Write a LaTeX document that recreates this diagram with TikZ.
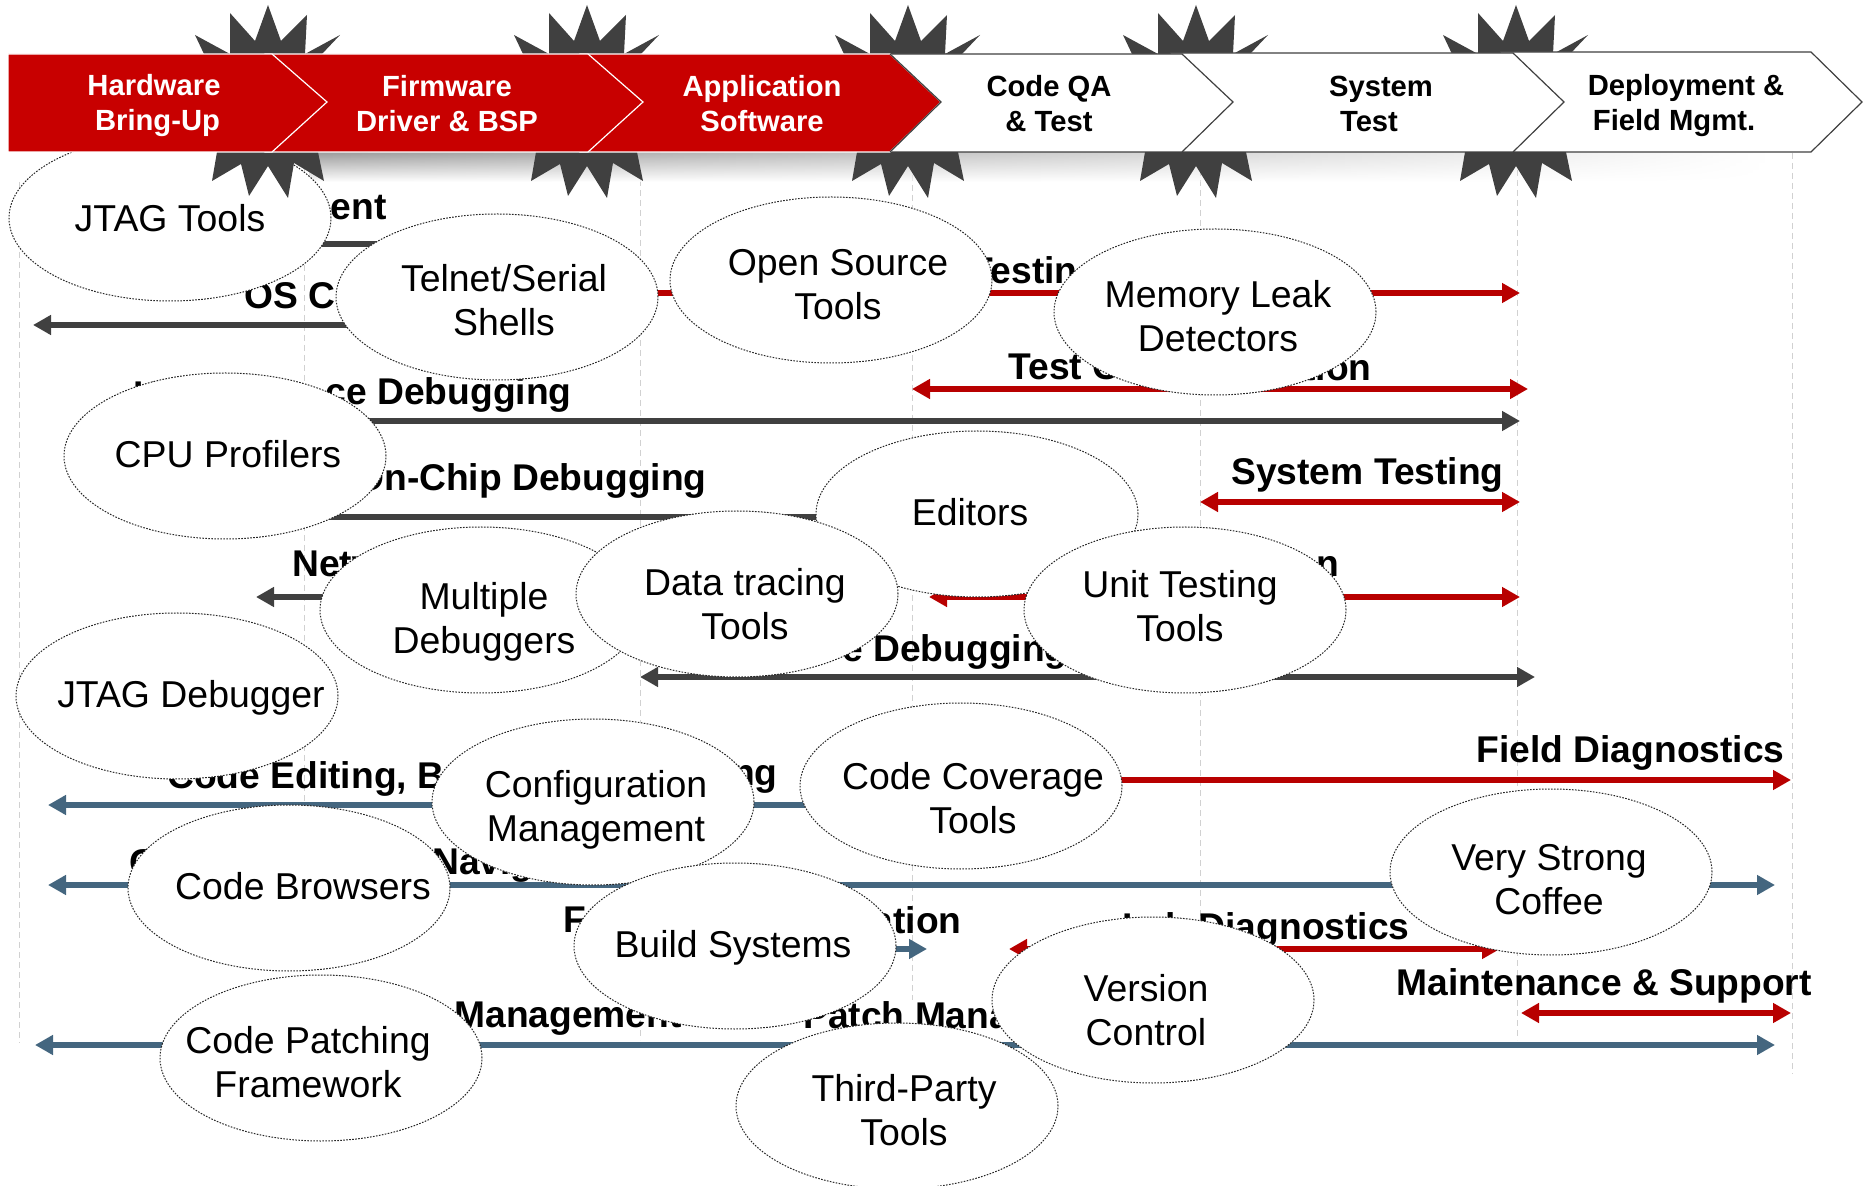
\documentclass[tikz,border=0pt]{standalone}
\usepackage{fontspec}
\setmainfont{Liberation Sans}
\usepackage{tikz}
\usetikzlibrary{arrows.meta, shapes.geometric, fadings}
\definecolor{stagered}{HTML}{C80000}
\definecolor{barred}{HTML}{B80000}
\definecolor{bardark}{HTML}{404040}
\definecolor{barblue}{HTML}{44667F}
\tikzset{%
  x=0.5pt, y=-0.5pt,
  >={Triangle[length=9pt, width=9.5pt]},
  every edge/.style={
    draw,
    line width=3.4pt},
  redbar/.style={draw=barred},
  darkbar/.style={draw=bardark},
  bluebar/.style={draw=barblue},
  tool/.style={
    ellipse,
    draw=black!85,
    line width=0.5pt,
    dash pattern=on 0.8pt off 0.7pt,
    fill=white,
    minimum width=161pt,
    minimum height=83pt,
    inner sep=0pt},
  tooltext/.style={
    align=center,
    inner sep=0pt,
    font=\fontsize{18.7}{22}\selectfont},
  stagered/.style={
    draw=white,
    fill=stagered,
    semithick},
  stagewhite/.style={
    draw=bardark,
    fill=white,
    semithick},
  stagetext/.style={
    align=center,
    font=\fontsize{14.6}{17.5}\selectfont\bfseries},
  barlabel/.style={
    inner sep=0pt,
    font=\fontsize{18.6}{22}\selectfont\bfseries},
  guide/.style={
    draw=black!18,
    densely dashed,
    thin}
}

\begin{document}
\begin{tikzpicture}
    \useasboundingbox (0,0) rectangle (1868,1186);

    % phase guides
    \foreach \x/\ya/\yb in {19/182/1043, 304/155/805, 640/180/1040, 912/165/1000,
        1200/160/1000, 1517/160/1040, 1792/153/1074} {
      \draw[guide] (\x,\ya) -- (\x,\yb);
    }

    \shade[top color=black!38, bottom color=white, path fading=east]
      (310,153) rectangle (1770,182);

    % bar ends
    \foreach \name/\xa/\xb/\y in {lowA/260/420/244, osA/33/500/325, testA/640/1520/293,
        genA/912/1528/389, kernA/300/1520/421, chipA/300/850/517, sysA/1200/1520/502,
        netA/256/400/597, intA/929/1520/597, srcA/640/1535/677, fieldA/1000/1791/780,
        editA/48/900/805, navA/48/1775/885, docA/650/927/949, labA/1009/1500/949,
        mainA/1521/1791/1013, patchA/35/1775/1045} {
      \coordinate (\name L) at (\xa,\y);
      \coordinate (\name R) at (\xb,\y);
    }

    \draw
      (lowAL) edge [darkbar] (lowAR)
      (osAL) edge [darkbar, <-] (osAR)
      (testAL) edge [redbar, ->] (testAR)
      (genAL) edge [redbar, <->] (genAR)
      (kernAL) edge [darkbar, ->] (kernAR)
      (chipAL) edge [darkbar] (chipAR)
      (sysAL) edge [redbar, <->] (sysAR)
      (netAL) edge [darkbar, <-] (netAR)
      (intAL) edge [redbar, <->] (intAR)
      (srcAL) edge [darkbar, <->] (srcAR)
      (fieldAL) edge [redbar, ->] (fieldAR)
      (editAL) edge [bluebar, <-] (editAR)
      (navAL) edge [bluebar, <->] (navAR)
      (docAL) edge [bluebar, ->] (docAR)
      (labAL) edge [redbar, <->] (labAR)
      (mainAL) edge [redbar, <->] (mainAR)
      (patchAL) edge [bluebar, <->] (patchAR)
    ;

    % bar labels, the tool ellipses cover parts of them
    \node[barlabel, anchor=east] (lLow) at (387,208) {ent};
    \node[barlabel, anchor=west] (lOs) at (244,296) {OS C};
    \node[barlabel, anchor=east] (lTest) at (1078,270) {Testin};
    \node[barlabel, anchor=west] (lGenA) at (1008,367) {Test C};
    \node[barlabel, anchor=east] (lGenB) at (1372,367) {ation};
    \node[barlabel, anchor=west] (lKernA) at (133,395) {K};
    \node[barlabel, anchor=east] (lKernB) at (572,395) {ce Debugging};
    \node[barlabel, anchor=east] (lChip) at (707,481) {On-Chip Debugging};
    \node[barlabel, anchor=west] (lSys) at (1231,475) {System Testing};
    \node[barlabel, anchor=west] (lNet) at (292,564) {Netw};
    \node[barlabel, anchor=east] (lInt) at (1340,566) {n};
    \node[barlabel, anchor=west] (lSrc) at (842,652) {e Debugging};
    \node[barlabel, anchor=east] (lField) at (1785,753) {Field Diagnostics};
    \node[barlabel, anchor=west] (lEditA) at (167,779) {Code Editing, B};
    \node[barlabel, anchor=east] (lEditB) at (778,779) {ng};
    \node[barlabel, anchor=west] (lNavA) at (129,863) {C};
    \node[barlabel, anchor=west] (lNavB) at (432,865) {Navig};
    \node[barlabel, anchor=west] (lDocA) at (563,920) {F};
    \node[barlabel, anchor=east] (lDocB) at (962,920) {ation};
    \node[barlabel, anchor=east] (lLab) at (1410,930) {Lab Diagnostics};
    \node[barlabel, anchor=west] (lMain) at (1396,986) {Maintenance \& Support};
    \node[barlabel, anchor=west] (lPatchA) at (454,1019) {Management};
    \node[barlabel, anchor=west] (lPatchB) at (803,1015) {Patch Mana};

    % tools
    \node[tool] (jtagT) at (170,218) {};
    \node[tool] (telnet) at (497,297) {};
    \node[tool] (oss) at (831,280) {};
    \node[tool] (leak) at (1215,312) {};
    \node[tool] (cpu) at (225,456) {};
    \node[tool] (editors) at (977,514) {};
    \node[tool] (multi) at (481,610) {};
    \node[tool] (trace) at (737,594) {};
    \node[tool] (unit) at (1185,610) {};
    \node[tool] (jtagD) at (177,696) {};
    \node[tool] (config) at (593,802) {};
    \node[tool] (cover) at (961,786) {};
    \node[tool] (browse) at (289,888) {};
    \node[tool] (coffee) at (1551,872) {};
    \node[tool] (build) at (735,946) {};
    \node[tool] (third) at (897,1106) {};
    \node[tool] (version) at (1153,1000) {};
    \node[tool] (patch) at (321,1058) {};

    \node[tooltext] (tJtagT) at (170,218) {JTAG Tools};
    \node[tooltext] (tTelnet) at (504,300) {Telnet/Serial\\Shells};
    \node[tooltext] (tOss) at (838,285) {Open Source\\Tools};
    \node[tooltext] (tLeak) at (1218,316) {Memory Leak\\Detectors};
    \node[tooltext] (tCpu) at (228,454) {CPU Profilers};
    \node[tooltext] (tEditors) at (970,512) {Editors};
    \node[tooltext] (tMulti) at (484,622) {Multiple\\Debuggers};
    \node[tooltext] (tTrace) at (745,604) {Data tracing\\Tools};
    \node[tooltext] (tUnit) at (1180,606) {Unit Testing\\Tools};
    \node[tooltext] (tJtagD) at (191,698) {JTAG Debugger};
    \node[tooltext] (tConfig) at (596,810) {Configuration\\Management};
    \node[tooltext] (tCover) at (973,798) {Code Coverage\\Tools};
    \node[tooltext] (tBrowse) at (303,886) {Code Browsers};
    \node[tooltext] (tCoffee) at (1549,880) {Very Strong\\Coffee};
    \node[tooltext] (tBuild) at (733,948) {Build Systems};
    \node[tooltext] (tThird) at (904,1110) {Third-Party\\Tools};
    \node[tooltext] (tVersion) at (1146,1010) {Version\\Control};
    \node[tooltext] (tPatch) at (308,1062) {Code Patching\\Framework};

    % bursts behind the stage band
    \foreach \c in {268, 587, 908, 1196, 1516} {
      \fill[bardark, shift={(\c,0)}]
        (-64,54) -- (-73,35) -- (-38,54) -- (-38,13) -- (-13,41) -- (0,5) -- (13,41)
        -- (39,15) -- (37,54) -- (72,35) -- (54,54) -- cycle;
      \fill[bardark, shift={(\c,0)}]
        (-51,152) -- (-56,181) -- (-27,164) -- (-19,196) -- (0,166) -- (20,198)
        -- (26,163) -- (56,181) -- (50,152) -- cycle;
    }

    % stages, from right to left so that each tip lies on the next one
    \draw[stagewhite] (1500,52) -- (1811,52) -- (1862,102) -- (1811,152) -- (1500,152) -- cycle;
    \draw[stagewhite] (1170,53) -- (1513,53) -- (1564,102) -- (1513,152) -- (1170,152) -- cycle;
    \draw[stagewhite] (880,54) -- (1182,54) -- (1233,102) -- (1182,152) -- (880,152) -- cycle;
    \draw[stagered] (580,54) -- (890,54) -- (941,102) -- (890,152) -- (580,152) -- cycle;
    \draw[bardark, semithick] (890,54) -- (941,102) -- (890,152);
    \draw[stagered] (265,54) -- (588,54) -- (643,102) -- (588,152) -- (265,152) -- cycle;
    \draw[stagered] (8,54) -- (272,54) -- (327,102) -- (272,152) -- (8,152) -- cycle;

    \node[stagetext, text=white] (hw) at (154,106) {Hardware\\\hspace*{3.5pt}Bring-Up};
    \node[stagetext, text=white] (fw) at (447,104) {Firmware\\Driver \& BSP};
    \node[stagetext, text=white] (app) at (762,104) {Application\\Software};
    \node[stagetext] (qa) at (1049,104) {Code QA\\\& Test};
    \node[stagetext] (sys) at (1381,104) {System\\Test\hspace*{12pt}};
    \node[stagetext] (dep) at (1686,106) {Deployment \&\\Field Mgmt.\hspace*{12pt}};

\end{tikzpicture}
\end{document}
